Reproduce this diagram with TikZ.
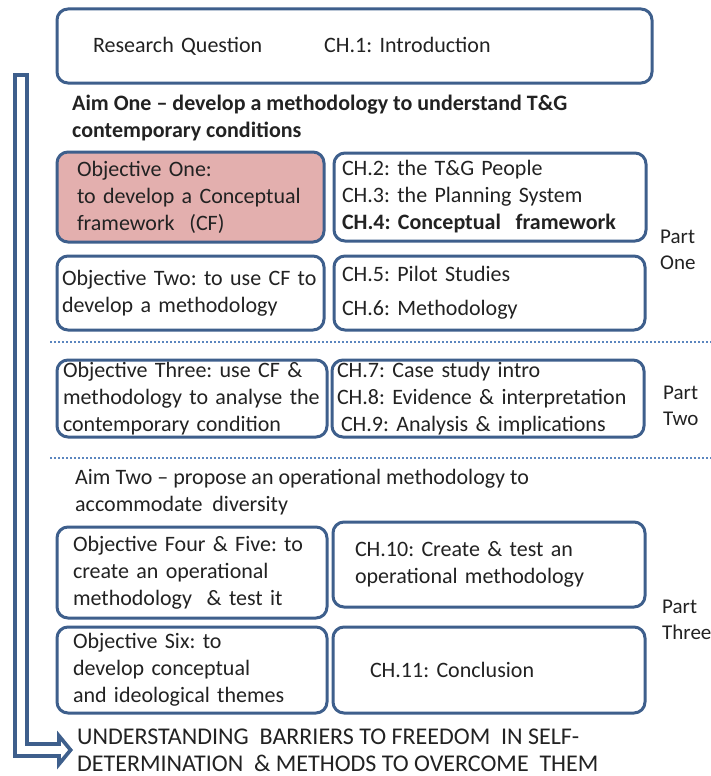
\documentclass[tikz,border=0pt]{standalone}
\usepackage{fontspec}
\setmainfont{Carlito}
\usepackage{xcolor}
\usepackage{tikz}
\usetikzlibrary{positioning,arrows.meta}
\definecolor{frame}{HTML}{3E5F8C}
\definecolor{rosefill}{HTML}{E3AFAE}
\definecolor{sepline}{HTML}{5B86BF}
\definecolor{ink}{HTML}{222222}
\newcommand{\txtfont}{\fontsize{22pt}{27pt}\selectfont}
\frenchspacing
\tikzset{
  panel/.style={rectangle, draw=frame, line width=3pt, rounded corners=11pt, fill=white, outer sep=0pt,
                anchor=north west, align=left, inner ysep=0pt, font=\txtfont, text=ink},
  note/.style={font=\txtfont, text=ink, align=left, anchor=west, inner sep=0pt},
  parts/.style={note, font=\fontsize{21pt}{26pt}\selectfont},
  divider/.style={draw=sepline, line width=2pt, dash pattern=on 2pt off 2pt},
  flowout/.style={draw=frame, line width=16pt, -{Triangle[length=16pt, width=39pt, line width=0pt]}},
  flowin/.style={draw=white, line width=8pt, shorten >=5pt, -{Triangle[length=7pt, width=17pt, line width=0pt]}},
}

\begin{document}
\begin{tikzpicture}[x=1pt, y=-1pt]
    \useasboundingbox[fill=white] (0,0) rectangle (711,776);
    % outcome at the bottom
    \node[note, inner xsep=4pt, font=\fontsize{24pt}{27pt}\selectfont] (goal) at (73,750)
      {UNDERSTANDING\ \ BARRIERS TO FREEDOM\ \ IN SELF-\\DETERMINATION\ \ \& METHODS TO OVERCOME\ \ THEM};
    \coordinate (flowtop) at (21,73);
    \coordinate (flowtopin) at (21,77);
    \draw[flowout] (flowtop) |- (goal.west);
    \draw[flowin] (flowtopin) |- (goal.west);
    % introduction
    \node[panel, minimum height=74pt, text width=523pt, inner xsep=36pt] (intro) at (57,9)
      {Research Question\hspace{62pt}CH.1: Introduction};
    \node[note, font=\txtfont\bfseries] (aimone) at (72,118)
      {Aim One -- develop a methodology to understand T\&G\\contemporary conditions};
    % part one
    \node[panel, fill=rosefill, minimum height=90pt, text width=227pt, inner xsep=20pt] (objone) at (57,152)
      {Objective One:\\to develop a Conceptual\\framework\ \ (CF)};
    \node[panel, minimum height=88pt, text width=296pt, inner xsep=8pt, right=10pt of objone] (chtwo)
      {CH.2: the T\&G People\\CH.3: the Planning System\\\textbf{CH.4: Conceptual\ \ framework}};
    \node[panel, minimum height=74pt, text width=257pt, inner xsep=5pt] (objtwo) at (57,256)
      {Objective Two: to use CF to\\develop a methodology};
    \node[panel, minimum height=74pt, text width=295pt, inner xsep=8pt, right=10pt of objtwo] (chfive)
      {CH.5: Pilot Studies\\[7pt]CH.6: Methodology};
    \node[parts] (partone) at (660,250) {Part\\One};
    \coordinate (sepa) at (50,342);
    \coordinate (sepa end) at (711,342);
    \draw[divider] (sepa) -- (sepa end);
    % part two
    \node[panel, minimum height=77pt, text width=258pt, inner xsep=6pt] (objthree) at (57,360)
      {Objective Three: use CF \&\\methodology to analyse the\\contemporary condition};
    \node[panel, minimum height=77pt, text width=302pt, inner xsep=5pt, right=5pt of objthree] (chseven)
      {CH.7: Case study intro\\CH.8: Evidence \& interpretation\\\hspace*{4pt}CH.9: Analysis \& implications};
    \node[parts] (parttwo) at (663,406) {Part\\Two};
    \coordinate (sepb) at (50,458);
    \coordinate (sepb end) at (711,458);
    \draw[divider] (sepb) -- (sepb end);
    % part three
    \node[note] (aimtwo) at (75,492)
      {Aim Two -- propose an operational methodology to\\accommodate\ \ diversity};
    \node[panel, minimum height=91pt, text width=238pt, inner xsep=16pt] (objfour) at (57,527)
      {Objective Four \& Five: to\\create an operational\\methodology\ \ \& test it};
    \node[panel, minimum height=85pt, text width=268pt, inner xsep=22pt, right=6pt of objfour, yshift=8pt] (chten)
      {CH.10: Create \& test an\\operational methodology};
    \node[panel, minimum height=86pt, text width=238pt, inner xsep=16pt] (objsix) at (57,627)
      {Objective Six: to\\develop conceptual\\and ideological themes};
    \node[panel, minimum height=86pt, text width=238pt, inner xsep=37pt, right=6pt of objsix] (cheleven)
      {CH.11: Conclusion};
    \node[parts] (partthree) at (662,620) {Part\\Three};
\end{tikzpicture}
\end{document}
